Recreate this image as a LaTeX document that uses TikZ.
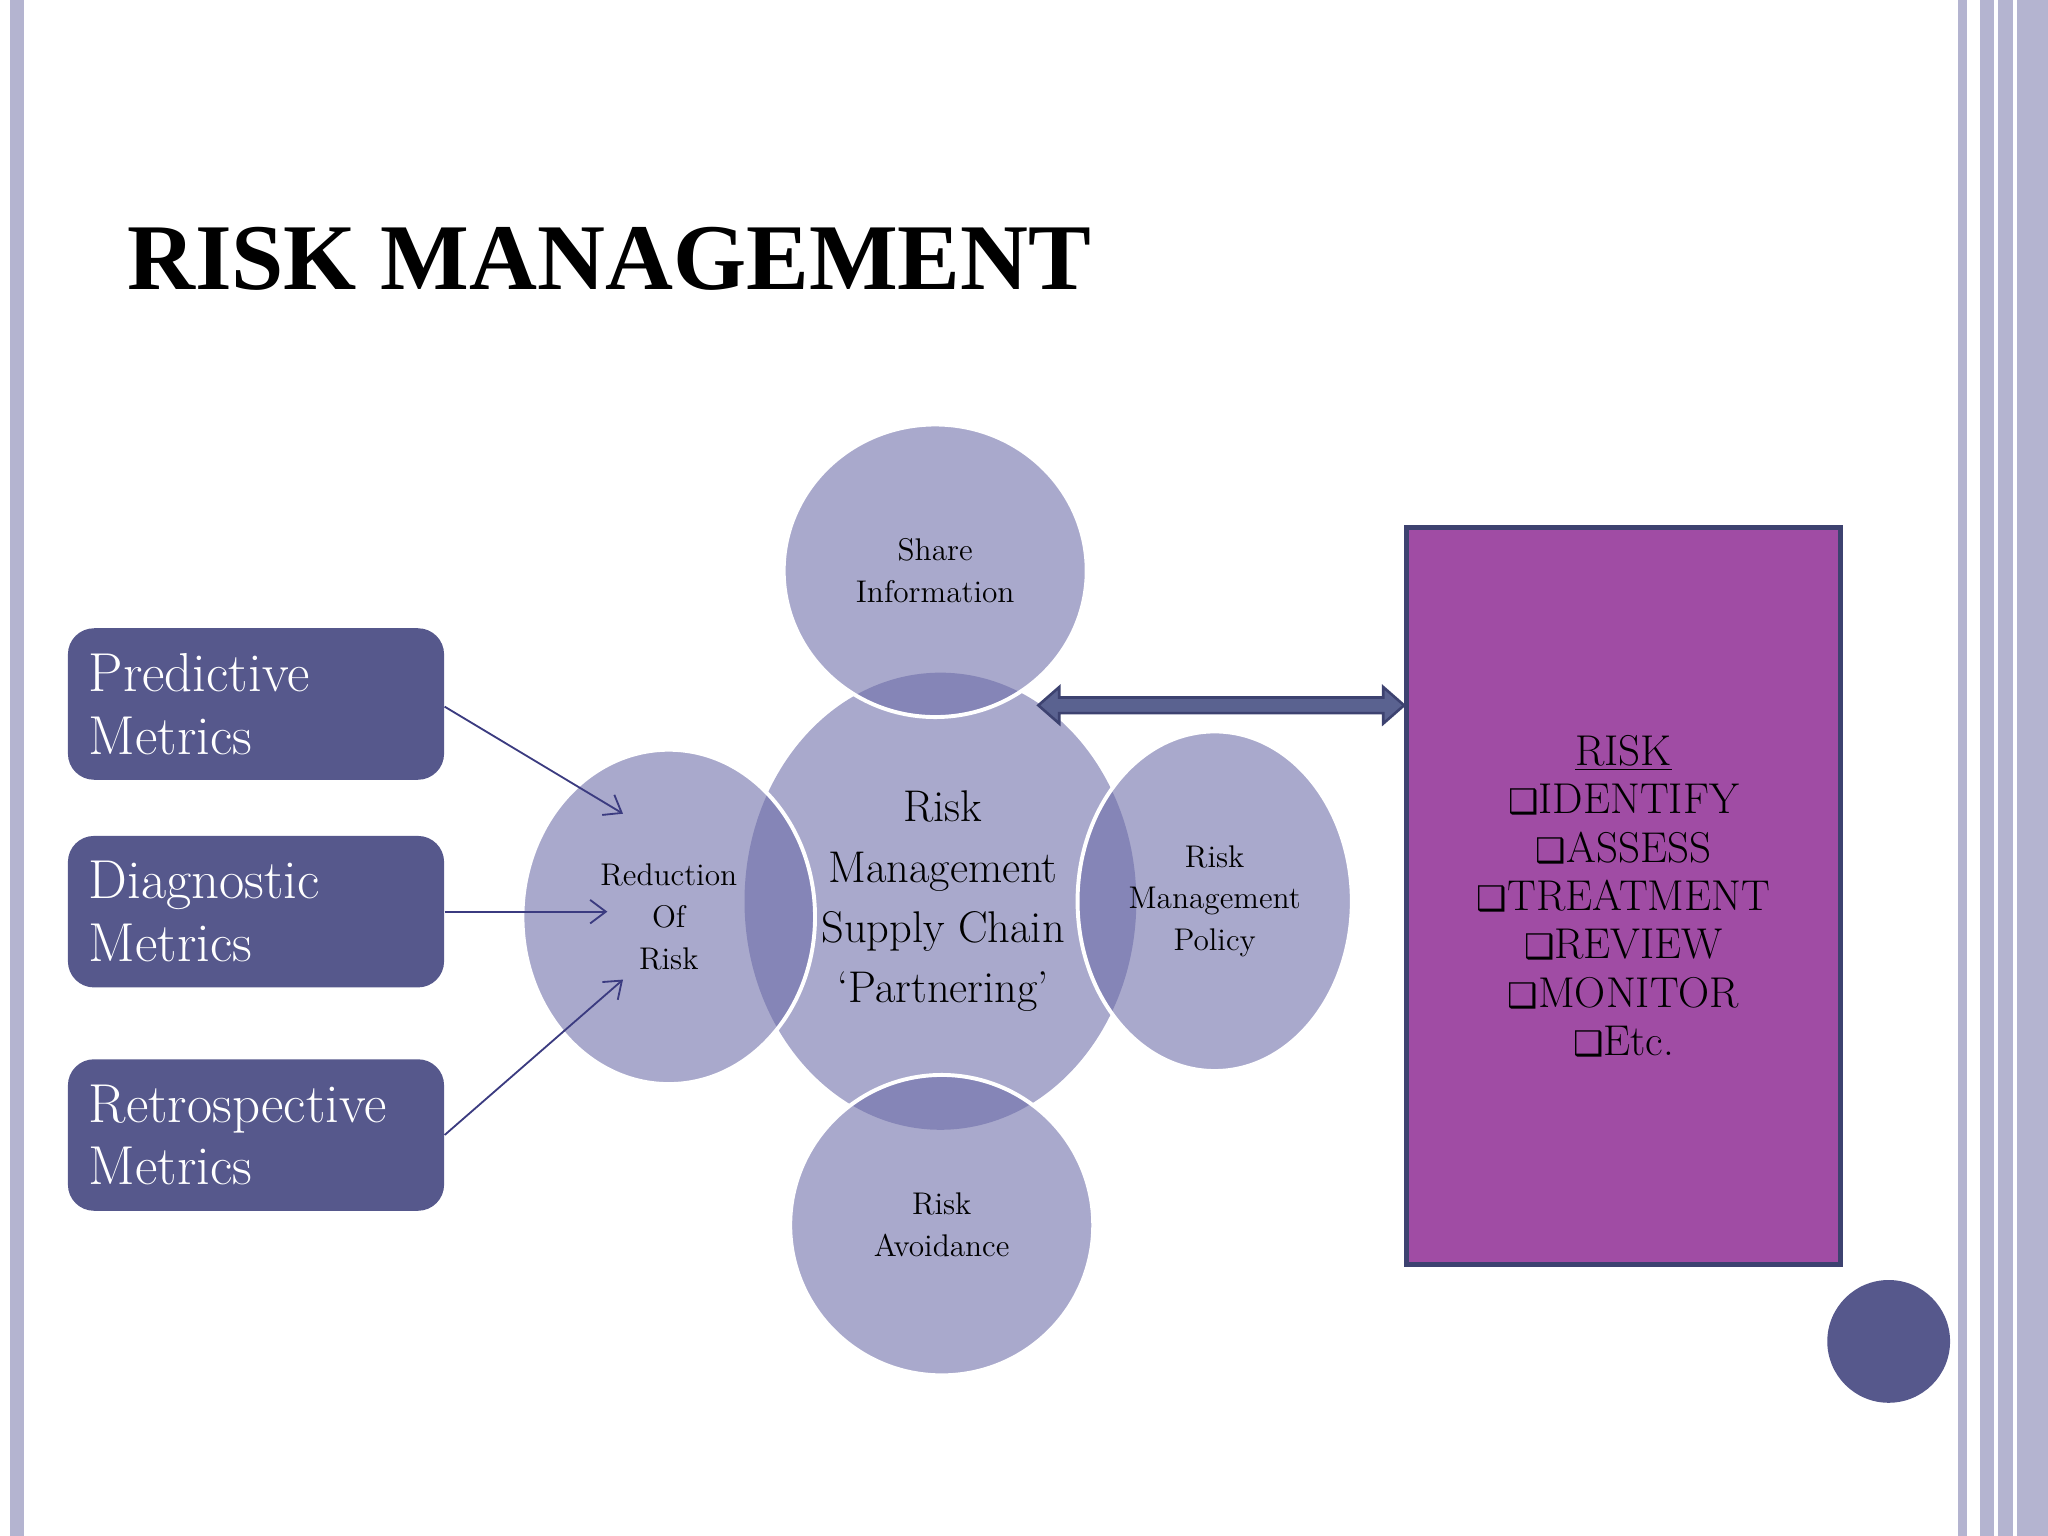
\documentclass[tikz,border=0pt]{standalone}
\usepackage{fontspec}
\newfontfamily\djsans{DejaVu Sans}
\newfontfamily\titlefont{Liberation Serif}
\usetikzlibrary{arrows.meta,shapes.geometric,calc}
\definecolor{bub}{RGB}{107,107,167}
\definecolor{boxc}{RGB}{86,88,140}
\definecolor{arr}{RGB}{59,59,128}
\definecolor{barc}{RGB}{180,180,208}
\definecolor{mag}{RGB}{160,76,164}
\definecolor{navy}{RGB}{61,66,112}
\definecolor{navyf}{RGB}{90,98,144}
\newcommand{\cb}{{\djsans\fontsize{13}{13}\selectfont ❑}}
\begin{document}
\begin{tikzpicture}[x=0.5pt,y=-0.5pt,
  bubble/.style={ellipse,fill=bub,fill opacity=0.58,draw=white,draw opacity=1,line width=1.5pt,text opacity=1,align=center},
  metric/.style={draw=none,fill=boxc,rounded corners=10pt,minimum width=144pt,minimum height=58pt,text=white,font=\fontsize{21}{24}\selectfont,align=left,text width=128pt},
  marr/.style={arr,line width=0.7pt,-{Straight Barb[length=6pt,width=9pt]}}]
\useasboundingbox (0,0) rectangle (1568,1176);
\fill[barc] (8,0) rectangle (18,1176);
\fill[barc] (1499,0) rectangle (1506,1176);
\fill[barc] (1516,0) rectangle (1568,1176);
\fill[white] (1527,0) rectangle (1530,1176);
\fill[white] (1541,0) rectangle (1544,1176);
\node[anchor=base west,font=\titlefont\bfseries\fontsize{36}{36}\selectfont,inner sep=0] (title) at (97,222) {RISK MANAGEMENT};
% circles
\node[bubble,minimum width=150pt,minimum height=175pt,draw=none] (c) at (720,690) {};
\node[bubble,minimum width=112pt,minimum height=128pt,font=\fontsize{12}{16}\selectfont] (l) at (512,702) {Reduction\\Of\\Risk};
\node[bubble,minimum width=105pt,minimum height=130pt,font=\fontsize{12}{16}\selectfont] (r) at (930,690) {Risk\\Management\\Policy};
\node[bubble,minimum width=116pt,minimum height=112pt,font=\fontsize{12}{16}\selectfont] (t) at (716,437) {Share\\Information};
\node[bubble,minimum width=116pt,minimum height=115pt,font=\fontsize{12}{16}\selectfont] (b) at (721,938) {Risk\\Avoidance};
\node[align=center,font=\fontsize{17}{23}\selectfont] (ct) at (722,690) {Risk\\Management\\Supply Chain\\`Partnering'};
% metric boxes
\node[metric] (p) at (196,539) {Predictive\\Metrics};
\node[metric] (d) at (196,698) {Diagnostic\\Metrics};
\node[metric] (re) at (196,869) {Retrospective\\Metrics};
\coordinate (a1) at (477,623); \coordinate (a2) at (465,698); \coordinate (a3) at (477,750);
\draw[marr] (p.east) ++(0,2) -- (a1);
\draw[marr] (d.east) -- (a2);
\draw[marr] (re.east) -- (a3);
% right box
\node[draw=navy,line width=2pt,fill=mag,minimum width=166pt,minimum height=282pt] (rb) at (1243,686) {};
\node[anchor=north,align=center,font=\fontsize{16.5}{18.5}\selectfont] (rt) at (1243,556) {\underline{RISK}\\\cb IDENTIFY\\\cb ASSESS\\\cb TREATMENT\\\cb REVIEW\\\cb MONITOR\\\cb Etc.};
% double arrow
\coordinate (da) at (795,540); \coordinate (db) at (rb.west|-da);
\fill[navyf,draw=navy,line width=1pt] (da) -- ++(16,-14) -- ++(0,8) -- ($(db)+(-16,-6)$) -- ++(0,-8) -- (db) -- ++(-16,14) -- ++(0,-8) -- ($(da)+(16,6)$) -- ++(0,8) -- cycle;
\node[circle,fill=boxc,minimum size=47pt,inner sep=0] (dot) at (1446,1027) {};
\end{tikzpicture}
\end{document}
